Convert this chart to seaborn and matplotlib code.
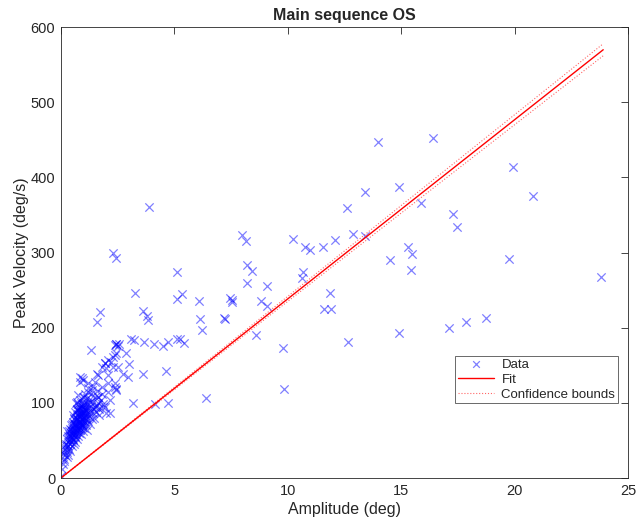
import matplotlib
matplotlib.use("Agg")
import matplotlib.pyplot as plt
import seaborn as sns
import numpy as np

# 数据：幅度(deg) 和 峰值速度(deg/s)
# 原点附近的密集簇
cluster_amp = [
    0.02, 0.05, 0.08, 0.12, 0.10, 0.15, 0.18, 0.20, 0.22, 0.25, 0.27, 0.28, 0.30, 0.32,
    0.33, 0.35, 0.36, 0.38, 0.40, 0.41, 0.42, 0.44, 0.45, 0.46, 0.48, 0.50, 0.50, 0.52,
    0.53, 0.55, 0.56, 0.57, 0.58, 0.60, 0.60, 0.62, 0.63, 0.64, 0.65, 0.66, 0.68, 0.69,
    0.70, 0.70, 0.72, 0.73, 0.74, 0.75, 0.76, 0.77, 0.78, 0.80, 0.80, 0.82, 0.83, 0.84,
    0.85, 0.86, 0.88, 0.89, 0.90, 0.91, 0.92, 0.93, 0.95, 0.96, 0.97, 0.98, 1.00, 1.00,
    1.02, 1.03, 1.05, 1.06, 1.08, 1.10, 1.10, 1.12, 1.14, 1.15, 1.17, 1.18, 1.20, 1.22,
    1.24, 1.25, 1.27, 1.30, 1.32, 1.33, 1.35, 1.38, 1.40, 1.42, 1.45, 1.48, 1.50, 1.53,
    1.56, 1.60, 1.62, 1.66, 1.70, 1.75, 1.80, 1.85, 0.34, 0.47, 0.59, 0.71, 0.87, 0.99,
    0.43, 0.54, 0.67, 0.79, 0.94, 1.07, 0.26, 0.39, 0.61, 0.81,
]
cluster_vel = [
    3, 12, 18, 25, 32, 22, 38, 30, 45, 28, 35, 52, 42, 48,
    30, 58, 38, 65, 45, 52, 36, 60, 70, 48, 55, 42, 66, 75,
    58, 50, 62, 80, 45, 70, 55, 88, 64, 48, 76, 58, 68, 92,
    52, 80, 62, 72, 85, 56, 98, 66, 76, 60, 88, 70, 80, 104,
    64, 74, 92, 58, 82, 68, 96, 76, 86, 63, 108, 72, 80, 92,
    66, 100, 84, 74, 112, 90, 70, 80, 98, 64, 86, 120, 76, 94,
    104, 82, 72, 88, 112, 96, 78, 102, 86, 122, 92, 80, 108, 96,
    88, 116, 100, 92, 84, 104, 112, 98, 62, 72, 78, 90, 84, 88,
    64, 84, 100, 94, 70, 86, 44, 56, 72, 68,
]
# 簇中心的重叠点
core_amp = [
    0.52, 0.58, 0.63, 0.67, 0.72, 0.76, 0.81, 0.85, 0.90, 0.94, 0.98, 1.03, 1.08, 1.13,
    0.55, 0.61, 0.66, 0.71, 0.75, 0.79, 0.84, 0.88, 0.93, 0.97, 1.01, 1.06, 1.11, 1.16,
    0.49, 0.57, 0.64, 0.69, 0.74, 0.78, 0.83, 0.87, 0.92, 0.96, 1.04, 1.09, 0.31, 0.37,
    0.44, 0.51, 0.24, 0.19, 0.14, 0.29,
]
core_vel = [
    60, 67, 72, 61, 78, 70, 82, 73, 88, 79, 95, 86, 92, 100,
    52, 58, 80, 66, 90, 74, 66, 84, 70, 98, 76, 90, 82, 106,
    62, 72, 56, 84, 64, 92, 76, 100, 80, 90, 108, 78, 56, 50,
    54, 58, 40, 44, 34, 62,
]
# 簇上方和外围的点
outer_amp = [
    0.84, 0.98, 0.72, 1.20, 1.35, 1.57, 1.79, 1.94, 2.08, 2.30, 2.45, 2.38, 2.30, 2.38,
    2.45, 2.08, 1.64, 2.00, 1.86, 1.50, 1.28, 1.31, 2.45, 2.38, 2.23, 1.94, 2.00, 2.52,
    1.64, 2.08, 0.91, 0.84, 1.50, 2.38, 2.45, 1.79, 2.08, 1.20, 0.76, 1.64, 2.16, 1.28,
    0.98, 1.57, 1.94, 2.15, 2.53, 2.56, 2.88, 2.99, 2.95, 2.72, 1.74, 1.59, 2.28, 2.43,
]
outer_vel = [
    135, 130, 101, 126, 117, 139, 148, 153, 157, 161, 166, 177, 148, 121,
    117, 126, 108, 86, 95, 95, 90, 170, 179, 164, 155, 153, 146, 148,
    137, 137, 133, 128, 128, 126, 119, 121, 115, 115, 110, 108, 104, 101,
    97, 97, 95, 86, 176, 179, 167, 152, 134, 138, 221, 207, 300, 293,
]
# 较大幅度的散点
far_amp = [
    3.90, 13.98, 16.38, 19.94, 20.80, 14.88, 13.42, 12.60, 15.85, 12.88, 13.40, 12.07,
    17.27, 17.44, 15.30, 15.49, 14.50, 15.42, 19.75, 23.80, 11.84, 11.90, 12.65, 14.88,
    17.12, 17.86, 18.73, 8.00, 8.17, 10.23, 10.75, 10.98, 11.55, 8.19, 8.43, 8.19,
    9.07, 10.67, 10.64, 11.60, 5.13, 3.25, 5.33, 5.13, 6.10, 3.60, 3.79, 3.86, 6.13,
    6.24, 7.44, 7.53, 7.54, 7.20, 7.22, 8.80, 9.09, 8.62, 9.77, 9.82, 3.08, 3.21, 3.65,
    4.12, 4.50, 4.72, 5.12, 5.26, 5.43, 4.62, 3.63, 6.39, 3.16, 4.14, 4.72, 2.42,
]
far_vel = [
    361, 447, 453, 414, 375, 387, 380, 360, 366, 325, 322, 317,
    351, 334, 307, 298, 290, 277, 291, 268, 246, 225, 181, 193,
    199, 208, 213, 324, 315, 318, 308, 303, 308, 283, 275, 260,
    256, 274, 266, 225, 274, 246, 245, 238, 236, 222, 216, 210, 211,
    197, 240, 237, 234, 213, 211, 235, 229, 191, 173, 118, 185, 184, 181,
    178, 176, 181, 185, 185, 180, 143, 138, 106, 100, 99, 100, 178,
]

# 拟合直线及置信区间（端点）
fit_amp = [0.0, 23.9]
fit_vel = [0.0, 570.0]
lower_vel = [0.0, 562.0]
upper_vel = [0.0, 578.0]

amplitude = np.array(cluster_amp + core_amp + outer_amp + far_amp)
velocity = np.array(cluster_vel + core_vel + outer_vel + far_vel)

sns.set_style("white")
plt.rcParams["font.family"] = ["Liberation Sans", "DejaVu Sans"]

fig = plt.figure(figsize=(6.41, 5.23), dpi=100)
ax = fig.add_axes([0.095, 0.086, 0.885, 0.862])

sns.scatterplot(x=amplitude, y=velocity, marker="x", color="blue", s=36,
                linewidth=0.9, alpha=0.5, label="Data", ax=ax)
sns.lineplot(x=fit_amp, y=fit_vel, color="red", linewidth=1.0, label="Fit", ax=ax)
sns.lineplot(x=fit_amp, y=upper_vel, color="red", linewidth=0.8, linestyle=":",
             alpha=0.6, label="Confidence bounds", ax=ax)
sns.lineplot(x=fit_amp, y=lower_vel, color="red", linewidth=0.8, linestyle=":",
             alpha=0.6, ax=ax)

ax.set_xlim(0, 25)
ax.set_ylim(0, 600)
ax.set_xticks([0, 5, 10, 15, 20, 25])
ax.set_yticks([0, 100, 200, 300, 400, 500, 600])

axis_col = "#262626"
for sp in ax.spines.values():
    sp.set_color(axis_col)
    sp.set_linewidth(0.6)
ax.tick_params(direction="in", top=True, right=True, length=5, width=0.6,
               labelsize=10.5, colors=axis_col, pad=4)

ax.set_xlabel("Amplitude (deg)", fontsize=11.5, color=axis_col, labelpad=3)
ax.set_ylabel("Peak Velocity (deg/s)", fontsize=11.5, color=axis_col, labelpad=1)
ax.set_title("Main sequence OS", fontsize=11.5, fontweight="bold", pad=5)

leg = ax.legend(loc="lower right", bbox_to_anchor=(0.982, 0.166), fontsize=9.5,
                frameon=True, fancybox=False, handlelength=2.7, handletextpad=0.6,
                borderpad=0.2, labelspacing=0.2, borderaxespad=0, markerscale=0.8)
leg.get_frame().set_edgecolor(axis_col)
leg.get_frame().set_linewidth(0.6)

fig.savefig("out.png", dpi=100)
